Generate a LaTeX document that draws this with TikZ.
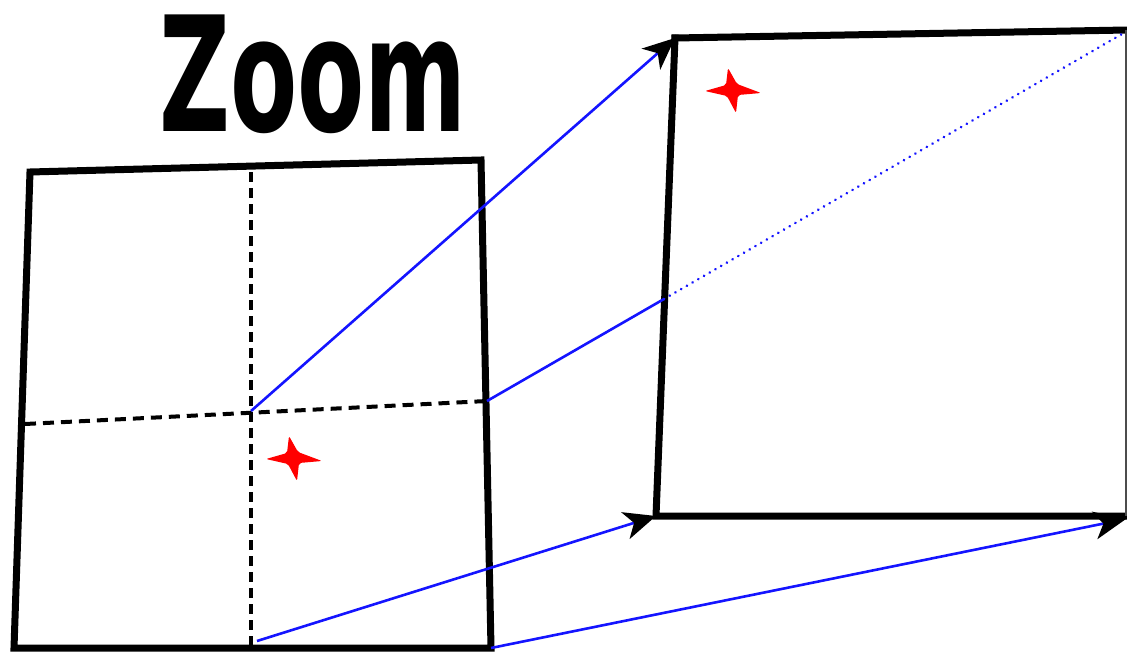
\documentclass[tikz,border=0pt]{standalone}
\usepackage{fontspec}
\newfontfamily\zoomfont{DejaVu Sans}
\usetikzlibrary{arrows.meta}
\definecolor{zblue}{RGB}{20,20,255}
\definecolor{zred}{RGB}{255,0,0}
\tikzset{
  frame/.style={line width=7pt, line join=miter, line cap=rect},
  cut/.style={black, line width=4pt, dash pattern=on 11pt off 7pt},
  vcut/.style={black, line width=3.2pt, dash pattern=on 10pt off 6pt},
  ray/.style={zblue, line width=2.6pt},
  rayarrow/.style={zblue, line width=2.6pt, -{Stealth[black,length=32pt,width=28pt,inset=9pt]}},
  dotray/.style={zblue, line width=2.8pt, line cap=round, dash pattern=on 0.1pt off 6.5pt},
  mark/.pic={\fill[zred, rounded corners=2pt] (-27,2) -- (-6,-4) -- (-4,-21) -- (5,-5) -- (29,4) -- (6,6) -- (4,24) -- (-5,7) -- cycle;}
}
\begin{document}
\begin{tikzpicture}[x=1pt,y=-1pt]
\useasboundingbox (0,0) rectangle (1127,651);
% left frame
\coordinate (LTL) at (30,172);
\coordinate (LTR) at (481,160);
\coordinate (LBR) at (491,648);
\coordinate (LBL) at (14,648);
\coordinate (VT) at (251,172);
\coordinate (VB) at (251,648);
\coordinate (HL) at (25,424);
\coordinate (HR) at (487,401);
\coordinate (C) at (251,411);
\coordinate (VBs) at (257,641);
% right frame
\coordinate (RTL) at (675,38);
\coordinate (RTR) at (1127,30);
\coordinate (RBL) at (656,516);
\coordinate (RBR) at (1127,516);
\coordinate (RM) at (664,299);
\coordinate (RTip) at (1122,34);
\coordinate (RBtip) at (1126,519);
% title
\node[inner sep=0pt, xscale=0.98, yscale=1.6] (title) at (313,74) {\zoomfont\bfseries\fontsize{100pt}{100pt}\selectfont Zoom};
% left frame
\draw[frame] (LTL) -- (LTR) -- (LBR) -- (LBL) -- cycle;
\draw[vcut] (VT) -- (VB);
\draw[cut] (HL) -- (HR);
% right frame
\draw[frame] (RTL) -- (RTR);
\draw[frame] (RTL) -- (RBL) -- (RBR);
\draw[line width=1.5pt, gray!60!black] (1126,30) -- (1126,516);
% rays
\draw[rayarrow] (C) -- (RTL);
\draw[rayarrow] (VBs) -- (RBL);
\draw[rayarrow] (LBR) -- (RBtip);
\draw[ray] (HR) -- (RM);
\draw[dotray] (RM) -- (RTip);
% marks
\pic at (293,457) {mark};
\pic at (732,89) {mark};
\end{tikzpicture}
\end{document}
